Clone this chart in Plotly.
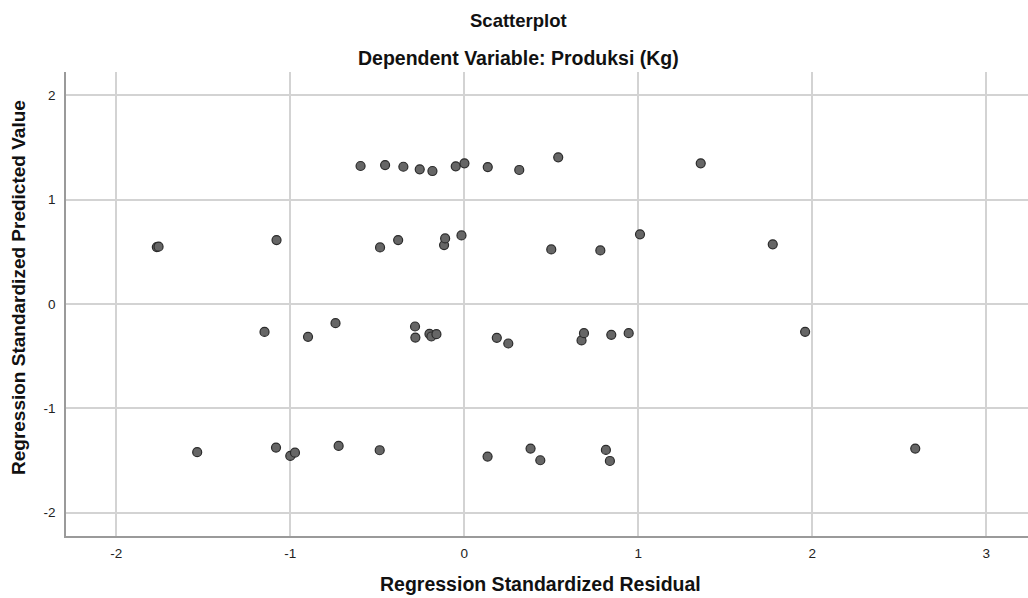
import plotly.graph_objects as go

# Data
residual = [
    -0.596, -0.455, -0.350, -0.256, -0.183, -0.049, 0.001, 0.135, 0.316, 0.540, 1.359,
    -1.767, -1.757, -1.079, -0.484, -0.380, -0.116, -0.110, -0.016, 0.500, 0.782, 1.010, 1.773,
    -1.148, -0.898, -0.740, -0.283, -0.281, -0.200, -0.189, -0.160, 0.187, 0.253,
    0.674, 0.688, 0.845, 0.945, 1.959,
    -1.535, -1.082, -1.000, -0.973, -0.722, -0.486, 0.134, 0.381, 0.437, 0.814, 0.837, 2.592,
]
predicted = [
    1.321, 1.330, 1.314, 1.289, 1.273, 1.318, 1.347, 1.311, 1.283, 1.404, 1.347,
    0.544, 0.548, 0.611, 0.541, 0.611, 0.563, 0.627, 0.656, 0.522, 0.512, 0.666, 0.570,
    -0.269, -0.316, -0.185, -0.217, -0.323, -0.288, -0.313, -0.291, -0.326, -0.380,
    -0.351, -0.281, -0.297, -0.281, -0.268,
    -1.422, -1.378, -1.458, -1.426, -1.362, -1.403, -1.464, -1.387, -1.499, -1.400, -1.506, -1.387,
]
x_ticks = [-2, -1, 0, 1, 2, 3]
y_ticks = [-2, -1, 0, 1, 2]

title_text = "Scatterplot"
subtitle_text = "Dependent Variable: Produksi (Kg)"
x_title = "Regression Standardized Residual"
y_title = "Regression Standardized Predicted Value"

W, H = 1028, 598
ML, MR, MT, MB = 66, 0, 72, 62
plot_w = W - ML - MR
plot_h = H - MT - MB

def px_x(px):
    return (px - ML) / plot_w

def px_y(px_from_top):
    return (H - MB - px_from_top) / plot_h

FONT = "Liberation Sans, Arial, sans-serif"

fig = go.Figure(go.Scatter(
    x=residual, y=predicted, mode="markers",
    marker=dict(size=9, color="#666666", line=dict(color="#2b2b2b", width=1.2)),
    hoverinfo="x+y",
))

axis_common = dict(
    showgrid=True, gridcolor="#d3d3d3", gridwidth=1.5, zeroline=False,
    showline=True, linecolor="#9a9a9a", linewidth=1.5,
    ticks="", tickfont=dict(size=13.5, color="#222", family=FONT),
)

fig.update_layout(
    width=W, height=H,
    margin=dict(l=ML, r=MR, t=MT, b=MB),
    paper_bgcolor="white", plot_bgcolor="white",
    showlegend=False,
    font=dict(family=FONT, color="#111"),
    xaxis=dict(range=[-2.289, 3.24], tickvals=x_ticks,
               ticktext=[str(v) for v in x_ticks], ticklabelstandoff=4, **axis_common),
    yaxis=dict(range=[-2.225, 2.222], tickvals=y_ticks,
               ticktext=[str(v) for v in y_ticks], ticklabelstandoff=6, **axis_common),
    annotations=[
        dict(text="<b>" + title_text + "</b>", xref="paper", yref="paper",
             x=px_x(518), y=px_y(20), showarrow=False,
             font=dict(size=18.5, color="#111", family=FONT), xanchor="center", yanchor="middle"),
        dict(text="<b>" + subtitle_text + "</b>", xref="paper", yref="paper",
             x=px_x(518), y=px_y(58), showarrow=False,
             font=dict(size=19.5, color="#111", family=FONT), xanchor="center", yanchor="middle"),
        dict(text="<b>" + x_title + "</b>", xref="paper", yref="paper",
             x=px_x(540), y=px_y(584), showarrow=False,
             font=dict(size=19.5, color="#111", family=FONT), xanchor="center", yanchor="middle"),
        dict(text="<b>" + y_title + "</b>", xref="paper", yref="paper",
             x=px_x(18), y=px_y(288), showarrow=False, textangle=-90,
             font=dict(size=19, color="#111", family=FONT), xanchor="center", yanchor="middle"),
    ],
)

fig.write_html("out.html", config={"displayModeBar": False},
               post_script="document.body.style.margin='0';")
